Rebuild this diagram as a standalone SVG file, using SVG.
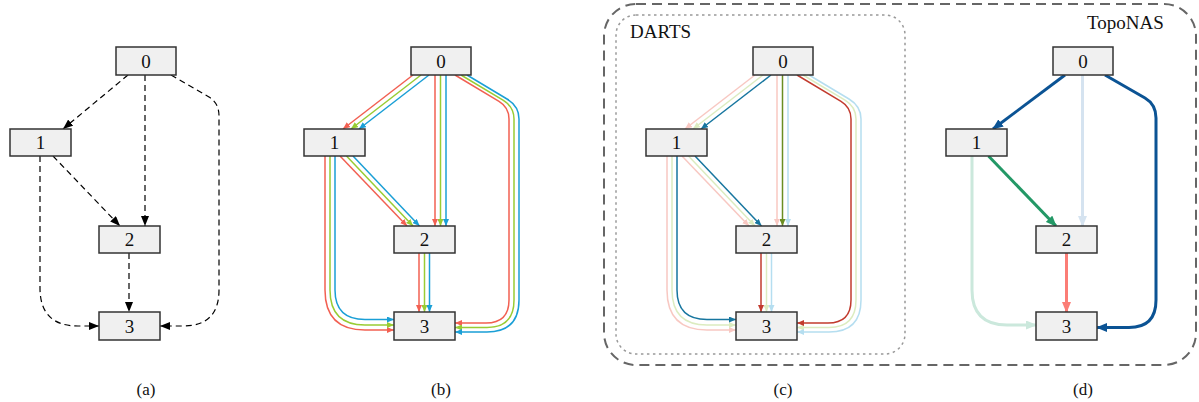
<svg xmlns="http://www.w3.org/2000/svg" width="1199" height="402" viewBox="0 0 1199 402">
<style>
.node rect{fill:#f0f0f0;stroke:#333;stroke-width:1.5}
.node text,.lbl{font-family:"Liberation Serif","Times New Roman",serif;fill:#111;text-anchor:middle}
.node text{font-size:19px}
.lbl{font-size:17px}
.title{font-family:"Liberation Serif","Times New Roman",serif;font-size:19px;fill:#111}
.dash{fill:none;stroke:#000;stroke-width:1.2;stroke-dasharray:6 4;marker-end:url(#ak)}
.e{fill:none;stroke-width:1.5}
.t{fill:none;stroke-width:3}
</style>
<defs>
<marker id="ak" markerUnits="userSpaceOnUse" markerWidth="10" markerHeight="8" refX="10" refY="4" orient="auto"><path d="M0,0 L10,4 L0,8 z" fill="#000"/></marker>
<marker id="br" markerUnits="userSpaceOnUse" markerWidth="7" markerHeight="6" refX="7" refY="3" orient="auto"><path d="M0,0 L7,3 L0,6 z" fill="#f26052"/></marker>
<marker id="bg" markerUnits="userSpaceOnUse" markerWidth="7" markerHeight="6" refX="7" refY="3" orient="auto"><path d="M0,0 L7,3 L0,6 z" fill="#99cc33"/></marker>
<marker id="bb" markerUnits="userSpaceOnUse" markerWidth="7" markerHeight="6" refX="7" refY="3" orient="auto"><path d="M0,0 L7,3 L0,6 z" fill="#1a9fd6"/></marker>
<marker id="cr" markerUnits="userSpaceOnUse" markerWidth="7" markerHeight="6" refX="7" refY="3" orient="auto"><path d="M0,0 L7,3 L0,6 z" fill="#c23b2e"/></marker>
<marker id="cg" markerUnits="userSpaceOnUse" markerWidth="7" markerHeight="6" refX="7" refY="3" orient="auto"><path d="M0,0 L7,3 L0,6 z" fill="#6b8e23"/></marker>
<marker id="cb" markerUnits="userSpaceOnUse" markerWidth="7" markerHeight="6" refX="7" refY="3" orient="auto"><path d="M0,0 L7,3 L0,6 z" fill="#17769f"/></marker>
<marker id="crf" markerUnits="userSpaceOnUse" markerWidth="7" markerHeight="6" refX="7" refY="3" orient="auto"><path d="M0,0 L7,3 L0,6 z" fill="#f8c8c2"/></marker>
<marker id="cgf" markerUnits="userSpaceOnUse" markerWidth="7" markerHeight="6" refX="7" refY="3" orient="auto"><path d="M0,0 L7,3 L0,6 z" fill="#dcecc0"/></marker>
<marker id="cbf" markerUnits="userSpaceOnUse" markerWidth="7" markerHeight="6" refX="7" refY="3" orient="auto"><path d="M0,0 L7,3 L0,6 z" fill="#b5def0"/></marker>
<marker id="db" markerUnits="userSpaceOnUse" markerWidth="11" markerHeight="9" refX="10" refY="4.5" orient="auto"><path d="M0,0 L11,4.5 L0,9 z" fill="#0b5394"/></marker>
<marker id="dg" markerUnits="userSpaceOnUse" markerWidth="11" markerHeight="9" refX="10" refY="4.5" orient="auto"><path d="M0,0 L11,4.5 L0,9 z" fill="#239866"/></marker>
<marker id="dr" markerUnits="userSpaceOnUse" markerWidth="11" markerHeight="9" refX="10" refY="4.5" orient="auto"><path d="M0,0 L11,4.5 L0,9 z" fill="#fb7d76"/></marker>
<marker id="dbf" markerUnits="userSpaceOnUse" markerWidth="11" markerHeight="9" refX="10" refY="4.5" orient="auto"><path d="M0,0 L11,4.5 L0,9 z" fill="#d5e3f0"/></marker>
<marker id="dgf" markerUnits="userSpaceOnUse" markerWidth="11" markerHeight="9" refX="10" refY="4.5" orient="auto"><path d="M0,0 L11,4.5 L0,9 z" fill="#cbe8dc"/></marker>
</defs>

<rect id="frame-outer" x="604" y="4" width="592" height="361" rx="32" fill="none" stroke="#666" stroke-width="2" stroke-dasharray="10 6"/>
<rect id="frame-darts" x="616" y="15" width="289" height="339" rx="20" fill="none" stroke="#999" stroke-width="1.5" stroke-dasharray="2.5 3.5"/>
<text class="title" x="630" y="38">DARTS</text>
<text class="title" x="1087" y="29">TopoNAS</text>

<!-- connectors (a) -->
<g id="edges-a">
<path class="dash" d="M128,75 L63,129"/>
<path class="dash" d="M145,75 V226"/>
<path class="dash" d="M171,75 L209,97 Q219,103 219,116 L219,290 Q219,326 183,326 L160,326"/>
<path class="dash" d="M53,156 L120,226"/>
<path class="dash" d="M40,156 L40,288 Q40,326 78,326 L99,326"/>
<path class="dash" d="M129,253 V312"/>
</g>

<!-- connectors (b) -->
<g id="edges-b">
<path class="e" stroke="#f26052" marker-end="url(#br)" d="M413,75 L343,129"/>
<path class="e" stroke="#99cc33" marker-end="url(#bg)" d="M421,75 L351,129"/>
<path class="e" stroke="#1a9fd6" marker-end="url(#bb)" d="M429,75 L359,129"/>
<path class="e" stroke="#f26052" marker-end="url(#br)" d="M435,75 V226"/>
<path class="e" stroke="#99cc33" marker-end="url(#bg)" d="M440.5,75 V226"/>
<path class="e" stroke="#1a9fd6" marker-end="url(#bb)" d="M446,75 V226"/>
<path class="e" stroke="#f26052" marker-end="url(#br)" d="M455,75 L499,101.4 Q509,107.4 509,119 L509,300 Q509,323 486,323 L455,323"/>
<path class="e" stroke="#99cc33" marker-end="url(#bg)" d="M461,75 L503,100.2 Q514,106.8 514,119 L514,300 Q514,327.5 487,327.5 L455,327.5"/>
<path class="e" stroke="#1a9fd6" marker-end="url(#bb)" d="M467,75 L507,99 Q519,106.2 519,119 L519,300 Q519,332 487,332 L455,332"/>
<path class="e" stroke="#f26052" marker-end="url(#br)" d="M340,156 L407,226"/>
<path class="e" stroke="#99cc33" marker-end="url(#bg)" d="M346.5,156 L413,226"/>
<path class="e" stroke="#1a9fd6" marker-end="url(#bb)" d="M353,156 L419.5,226"/>
<path class="e" stroke="#f26052" marker-end="url(#br)" d="M325,156 L325,290 Q325,330 365,330 L394,330"/>
<path class="e" stroke="#99cc33" marker-end="url(#bg)" d="M330,156 L330,290 Q330,325 365,325 L394,325"/>
<path class="e" stroke="#1a9fd6" marker-end="url(#bb)" d="M335,156 L335,290 Q335,319.5 365,319.5 L394,319.5"/>
<path class="e" stroke="#f26052" marker-end="url(#br)" d="M419,253 V312"/>
<path class="e" stroke="#99cc33" marker-end="url(#bg)" d="M424.5,253 V312"/>
<path class="e" stroke="#1a9fd6" marker-end="url(#bb)" d="M429.5,253 V312"/>
</g>

<!-- connectors (c) -->
<g id="edges-c" transform="translate(342,0)">
<path class="e" stroke="#f8c8c2" marker-end="url(#crf)" d="M413,75 L343,129"/>
<path class="e" stroke="#dcecc0" marker-end="url(#cgf)" d="M421,75 L351,129"/>
<path class="e" stroke="#f8c8c2" marker-end="url(#crf)" d="M435,75 V226"/>
<path class="e" stroke="#b5def0" marker-end="url(#cbf)" d="M446,75 V226"/>
<path class="e" stroke="#dcecc0" marker-end="url(#cgf)" d="M461,75 L503,100.2 Q514,106.8 514,119 L514,300 Q514,327.5 487,327.5 L455,327.5"/>
<path class="e" stroke="#b5def0" marker-end="url(#cbf)" d="M467,75 L507,99 Q519,106.2 519,119 L519,300 Q519,332 487,332 L455,332"/>
<path class="e" stroke="#f8c8c2" marker-end="url(#crf)" d="M340,156 L407,226"/>
<path class="e" stroke="#dcecc0" marker-end="url(#cgf)" d="M346.5,156 L413,226"/>
<path class="e" stroke="#f8c8c2" marker-end="url(#crf)" d="M325,156 L325,290 Q325,330 365,330 L394,330"/>
<path class="e" stroke="#dcecc0" marker-end="url(#cgf)" d="M330,156 L330,290 Q330,325 365,325 L394,325"/>
<path class="e" stroke="#dcecc0" marker-end="url(#cgf)" d="M424.5,253 V312"/>
<path class="e" stroke="#b5def0" marker-end="url(#cbf)" d="M429.5,253 V312"/>
<path class="e" stroke="#17769f" marker-end="url(#cb)" d="M429,75 L359,129"/>
<path class="e" stroke="#6b8e23" marker-end="url(#cg)" d="M440.5,75 V226"/>
<path class="e" stroke="#c23b2e" marker-end="url(#cr)" d="M455,75 L499,101.4 Q509,107.4 509,119 L509,300 Q509,323 486,323 L455,323"/>
<path class="e" stroke="#17769f" marker-end="url(#cb)" d="M353,156 L419.5,226"/>
<path class="e" stroke="#17769f" marker-end="url(#cb)" d="M335,156 L335,290 Q335,319.5 365,319.5 L394,319.5"/>
<path class="e" stroke="#c23b2e" marker-end="url(#cr)" d="M419,253 V312"/>
</g>

<!-- connectors (d) -->
<g id="edges-d" transform="translate(642,0)">
<path class="t" stroke="#d5e3f0" stroke-width="2.5" marker-end="url(#dbf)" d="M440.5,75 V226"/>
<path class="t" stroke="#cbe8dc" stroke-width="2.5" marker-end="url(#dgf)" d="M330,156 L330,290 Q330,325 365,325 L394,325"/>
<path class="t" stroke="#0b5394" marker-end="url(#db)" d="M423,75 L351,129"/>
<path class="t" stroke="#0b5394" marker-end="url(#db)" d="M463,75 L503,98 Q514,104.5 514,118 L514,300 Q514,327.5 487,327.5 L455,327.5"/>
<path class="t" stroke="#239866" marker-end="url(#dg)" d="M346.5,156 L414,226"/>
<path class="t" stroke="#fb7d76" marker-end="url(#dr)" d="M424.5,253 V312"/>
</g>

<!-- nodes (a) -->
<g id="a-n0" class="node"><rect x="116" y="47" width="60" height="28"/><text x="146" y="67.5">0</text></g>
<g id="a-n1" class="node"><rect x="10" y="129" width="61" height="27"/><text x="40.5" y="149">1</text></g>
<g id="a-n2" class="node"><rect x="99" y="226" width="61" height="27"/><text x="129.5" y="246">2</text></g>
<g id="a-n3" class="node"><rect x="99" y="312" width="61" height="28"/><text x="129.5" y="332.5">3</text></g>
<!-- nodes (b) -->
<g id="b-n0" class="node"><rect x="411" y="47" width="60" height="28"/><text x="441" y="67.5">0</text></g>
<g id="b-n1" class="node"><rect x="304" y="129" width="61" height="27"/><text x="334.5" y="149">1</text></g>
<g id="b-n2" class="node"><rect x="394" y="226" width="61" height="27"/><text x="424.5" y="246">2</text></g>
<g id="b-n3" class="node"><rect x="394" y="312" width="61" height="28"/><text x="424.5" y="332.5">3</text></g>
<!-- nodes (c) -->
<g id="c-n0" class="node"><rect x="753" y="47" width="60" height="28"/><text x="783" y="67.5">0</text></g>
<g id="c-n1" class="node"><rect x="646" y="129" width="61" height="27"/><text x="676.5" y="149">1</text></g>
<g id="c-n2" class="node"><rect x="736" y="226" width="61" height="27"/><text x="766.5" y="246">2</text></g>
<g id="c-n3" class="node"><rect x="736" y="312" width="61" height="28"/><text x="766.5" y="332.5">3</text></g>
<!-- nodes (d) -->
<g id="d-n0" class="node"><rect x="1053" y="47" width="60" height="28"/><text x="1083" y="67.5">0</text></g>
<g id="d-n1" class="node"><rect x="946" y="129" width="61" height="27"/><text x="976.5" y="149">1</text></g>
<g id="d-n2" class="node"><rect x="1036" y="226" width="61" height="27"/><text x="1066.5" y="246">2</text></g>
<g id="d-n3" class="node"><rect x="1036" y="312" width="61" height="28"/><text x="1066.5" y="332.5">3</text></g>

<text class="lbl" x="146" y="395">(a)</text>
<text class="lbl" x="441" y="395">(b)</text>
<text class="lbl" x="783" y="395">(c)</text>
<text class="lbl" x="1083" y="395">(d)</text>
</svg>
